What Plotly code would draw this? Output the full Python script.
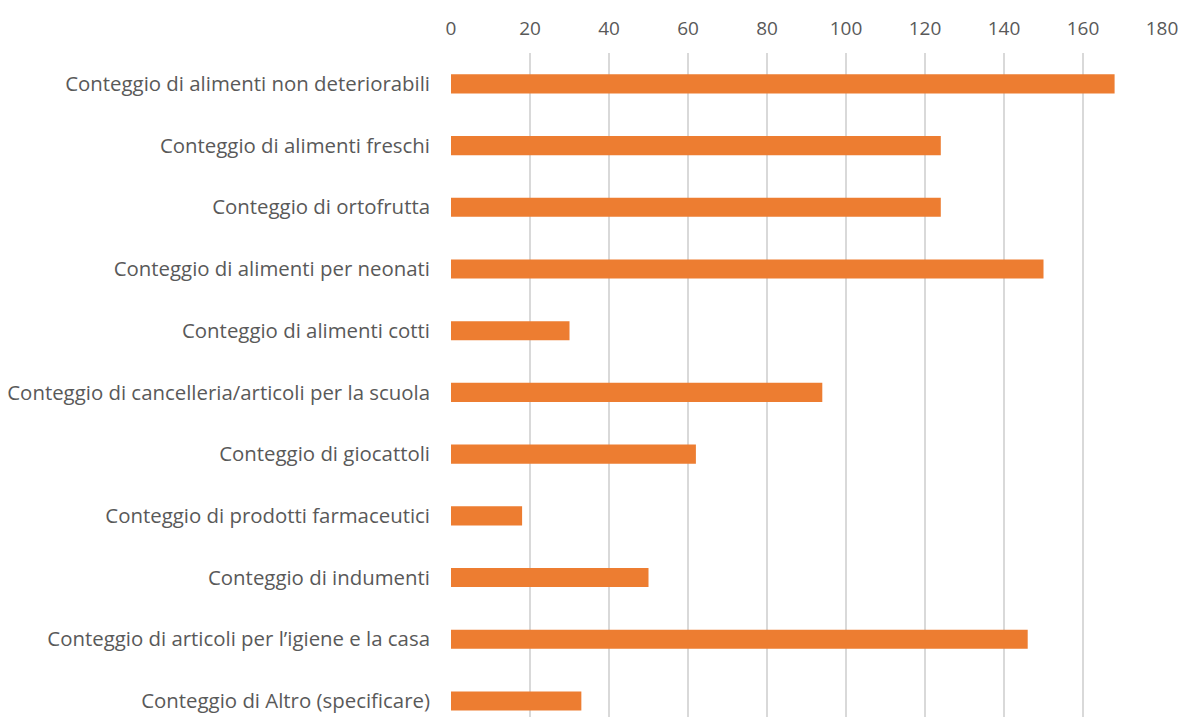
import plotly.graph_objects as go

categories = [
    "Conteggio di alimenti non deteriorabili",
    "Conteggio di alimenti freschi",
    "Conteggio di ortofrutta",
    "Conteggio di alimenti per neonati",
    "Conteggio di alimenti cotti",
    "Conteggio di cancelleria/articoli per la scuola",
    "Conteggio di giocattoli",
    "Conteggio di prodotti farmaceutici",
    "Conteggio di indumenti",
    "Conteggio di articoli per l\u2019igiene e la casa",
    "Conteggio di Altro (specificare)",
]
values = [168, 124, 124, 150, 30, 94, 62, 18, 50, 146, 33]
x_ticks = [0, 20, 40, 60, 80, 100, 120, 140, 160, 180]

fig = go.Figure(go.Bar(
    x=values, y=categories, orientation="h",
    marker=dict(color="#ED7D31", line=dict(width=0)),
))

fig.update_layout(
    width=1182, height=717,
    margin=dict(l=451, r=20, t=53, b=0),
    plot_bgcolor="white", paper_bgcolor="white",
    bargap=0.69,
    showlegend=False,
    font=dict(family="Open Sans", color="#595959", size=20),
)
fig.update_xaxes(
    side="top", range=[0, 180], tickvals=x_ticks,
    showgrid=True, gridcolor="#d9d9d9", gridwidth=1.5,
    zeroline=False, showline=False, ticks="",
    tickfont=dict(size=19, color="#595959"),
    ticklabelstandoff=13,
)
fig.update_yaxes(
    categoryorder="array", categoryarray=categories,
    range=[10.26, -0.5],
    showgrid=False, zeroline=False, showline=False, ticks="",
    tickfont=dict(size=20.4, color="#595959"),
    ticklabelstandoff=20,
)

fig.write_html(
    "out.html",
    config={"displayModeBar": False},
    post_script="document.body.style.margin='0';document.body.style.overflow='hidden';",
)
